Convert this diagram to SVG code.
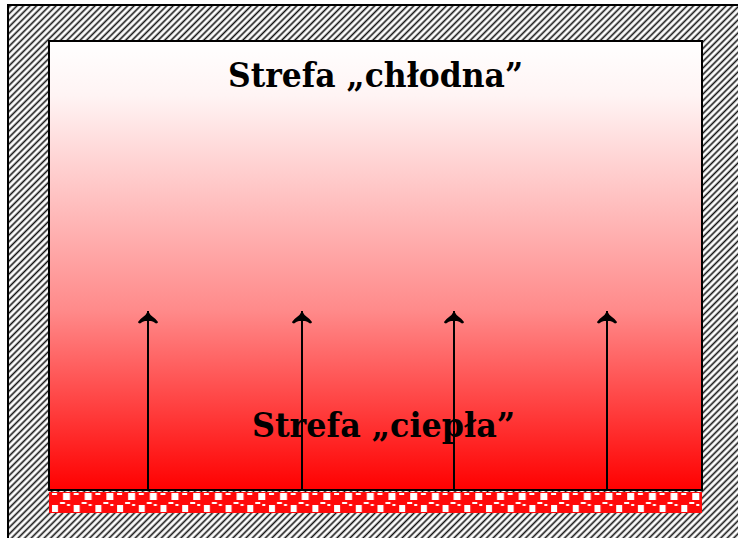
<svg xmlns="http://www.w3.org/2000/svg" width="738" height="538" viewBox="0 0 738 538">
<defs>
<pattern id="hatch" patternUnits="userSpaceOnUse" width="4.6" height="4.6" patternTransform="rotate(-45)">
<rect width="4.6" height="4.6" fill="#fff"/>
<line x1="0" y1="2.3" x2="4.6" y2="2.3" stroke="#111" stroke-width="1.6"/>
</pattern>
<pattern id="check" patternUnits="userSpaceOnUse" x="49" y="492" width="21.7" height="21">
<rect width="21.7" height="21" fill="#ff0a0a"/>
<rect x="3" y="1" width="5" height="2" fill="#fff"/>
<rect x="14" y="1" width="7" height="7" fill="#fff"/>
<rect x="11" y="10" width="5" height="2" fill="#fff"/>
<rect x="18" y="12" width="3" height="2" fill="#fff"/>
<rect x="3" y="13" width="6" height="7" fill="#fff"/>
</pattern>
<linearGradient id="grad" x1="0" y1="0" x2="0" y2="1">
<stop offset="0" stop-color="#ffffff"/>
<stop offset="0.12" stop-color="#fff4f4"/>
<stop offset="0.6" stop-color="#ff8a8a"/>
<stop offset="1" stop-color="#ff0000"/>
</linearGradient>
<marker id="ah" viewBox="-2 -11 14 22" refX="11" refY="0" markerWidth="14" markerHeight="22" markerUnits="userSpaceOnUse" orient="auto">
<path d="M11 0 Q7 -2 5 -5 Q3 -8 0 -10 L-1 -9.5 L-1.5 -8 Q1 -5 1 -3 L1 3 Q1 5 -1.5 8 L-1 9.5 L0 10 Q3 8 5 5 Q7 2 11 0 Z" fill="#000"/>
</marker>
<style>
.lbl{font-family:"DejaVu Serif","Liberation Serif",serif;font-weight:bold;font-size:33px;fill:#000;text-anchor:middle}
.arr{stroke:#000;stroke-width:2;fill:none}
</style>
</defs>
<g id="wall">
<rect x="8" y="5" width="740" height="540" fill="url(#hatch)" stroke="#000" stroke-width="2"/>
</g>
<g id="room">
<rect x="49" y="41" width="653" height="449" fill="url(#grad)" stroke="#000" stroke-width="2"/>
</g>
<g id="heater">
<rect x="49" y="492" width="653" height="21" fill="url(#check)"/>
</g>
<g id="label-cold">
<text class="lbl" x="375.5" y="87" textLength="295" lengthAdjust="spacingAndGlyphs">Strefa „chłodna”</text>
</g>
<g id="label-warm">
<text class="lbl" x="383.5" y="437" textLength="263" lengthAdjust="spacingAndGlyphs">Strefa „ciepła”</text>
</g>
<g id="connectors">
<line class="arr" x1="148" y1="490" x2="148" y2="311" marker-end="url(#ah)"/>
<line class="arr" x1="302" y1="490" x2="302" y2="311" marker-end="url(#ah)"/>
<line class="arr" x1="454" y1="490" x2="454" y2="311" marker-end="url(#ah)"/>
<line class="arr" x1="607" y1="490" x2="607" y2="311" marker-end="url(#ah)"/>
</g>
</svg>
